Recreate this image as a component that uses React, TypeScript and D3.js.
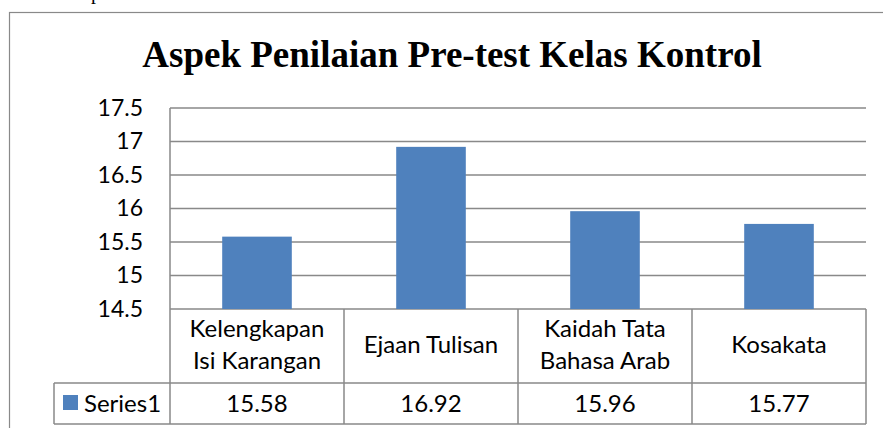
import { useEffect, useRef } from "react";
import * as d3 from "d3";

const title = "Aspek Penilaian Pre-test Kelas Kontrol";
const categories = [
  "Kelengkapan Isi Karangan",
  "Ejaan Tulisan",
  "Kaidah Tata Bahasa Arab",
  "Kosakata",
];
const categoryLines = [
  ["Kelengkapan", "Isi Karangan"],
  ["Ejaan Tulisan"],
  ["Kaidah Tata", "Bahasa Arab"],
  ["Kosakata"],
];
const values = [15.58, 16.92, 15.96, 15.77];
const yTicks = [14.5, 15, 15.5, 16, 16.5, 17, 17.5];
const seriesName = "Series1";

export default function App() {
  const ref = useRef<SVGSVGElement>(null);

  useEffect(() => {
    const svg = d3.select(ref.current!);
    svg.selectAll("*").remove();

    const W = 883,
      H = 428;
    const m = { top: 108, left: 170, right: 866, bottom: 309 };
    const tableRow1 = 383,
      tableRow2 = 424,
      legendLeft = 54;
    const grey = "#898989";
    const labelFont = "Lato, 'Noto Sans', sans-serif";

    // outer chart frame (runs past the picture edge)
    svg
      .append("rect")
      .attr("x", 9.5)
      .attr("y", 12.5)
      .attr("width", W)
      .attr("height", H)
      .attr("fill", "white")
      .attr("stroke", grey)
      .attr("stroke-width", 1.2);

    // fragment of the document text above the chart
    svg
      .append("text")
      .attr("x", 91)
      .attr("y", -1)
      .attr("font-family", "'Liberation Serif', serif")
      .attr("font-size", 20)
      .text("p");

    svg
      .append("text")
      .attr("x", 452)
      .attr("y", 67)
      .attr("text-anchor", "middle")
      .attr("font-family", "'Liberation Serif', 'Times New Roman', serif")
      .attr("font-weight", "bold")
      .attr("font-size", 37)
      .text(title);

    const y = d3
      .scaleLinear()
      .domain([yTicks[0], yTicks[yTicks.length - 1]])
      .range([m.bottom, m.top]);

    const x = d3
      .scaleBand<string>()
      .domain(categories)
      .range([m.left, m.right])
      .paddingInner(0.6)
      .paddingOuter(0.3);

    const cols = d3.scaleBand<string>().domain(categories).range([m.left, m.right]);

    /* ── GRIDLINES ─────────────────────────── */
    svg
      .append("g")
      .selectAll("line")
      .data(yTicks)
      .join("line")
      .attr("x1", m.left)
      .attr("x2", m.right)
      .attr("y1", (d) => y(d))
      .attr("y2", (d) => y(d))
      .attr("stroke", grey)
      .attr("stroke-width", 1.6);

    // y labels
    const yAxis = svg
      .append("g")
      .attr("transform", `translate(${m.left},0)`)
      .call(
        d3
          .axisLeft(y)
          .tickValues(yTicks)
          .tickSize(0)
          .tickPadding(27)
          .tickFormat((d) => String(d))
      );
    yAxis.select(".domain").remove();
    yAxis
      .selectAll("text")
      .attr("font-family", labelFont)
      .attr("font-size", 23)
      .attr("fill", "#000");

    /* ── BARS ─────────────────────────────── */
    svg
      .append("g")
      .selectAll("rect")
      .data(values)
      .join("rect")
      .attr("x", (_, i) => x(categories[i])!)
      .attr("width", x.bandwidth())
      .attr("y", (d) => y(d))
      .attr("height", (d) => y(yTicks[0]) - y(d))
      .attr("fill", "#4F81BD");

    /* ── DATA TABLE ───────────────────────── */
    const t = svg.append("g").attr("stroke", grey).attr("stroke-width", 1.5);
    // vertical axis line down through table
    t.append("line")
      .attr("x1", m.left)
      .attr("x2", m.left)
      .attr("y1", m.top)
      .attr("y2", tableRow2);
    categories.forEach((c) => {
      const xr = cols(c)! + cols.bandwidth();
      t.append("line")
        .attr("x1", xr)
        .attr("x2", xr)
        .attr("y1", m.bottom)
        .attr("y2", tableRow2);
    });
    t.append("line")
      .attr("x1", legendLeft)
      .attr("x2", m.right)
      .attr("y1", tableRow1)
      .attr("y2", tableRow1);
    t.append("line")
      .attr("x1", legendLeft)
      .attr("x2", m.right)
      .attr("y1", tableRow2)
      .attr("y2", tableRow2);
    t.append("line")
      .attr("x1", legendLeft)
      .attr("x2", legendLeft)
      .attr("y1", tableRow1)
      .attr("y2", tableRow2);

    const rowMid = (m.bottom + tableRow1) / 2;
    categories.forEach((c, i) => {
      const lines = categoryLines[i];
      const cx = cols(c)! + cols.bandwidth() / 2;
      lines.forEach((ln, j) => {
        svg
          .append("text")
          .attr("x", cx)
          .attr("y", rowMid + 7 + (j - (lines.length - 1) / 2) * 32)
          .attr("text-anchor", "middle")
          .attr("font-family", labelFont)
          .attr("font-size", 24)
          .text(ln);
      });
      svg
        .append("text")
        .attr("x", cx)
        .attr("y", 411.5)
        .attr("text-anchor", "middle")
        .attr("font-family", labelFont)
        .attr("font-size", 24)
        .text(values[i].toFixed(2));
    });

    // legend key
    svg
      .append("rect")
      .attr("x", 63)
      .attr("y", 395)
      .attr("width", 15)
      .attr("height", 15)
      .attr("fill", "#4F81BD");
    svg
      .append("text")
      .attr("x", 84)
      .attr("y", 411.5)
      .attr("font-family", labelFont)
      .attr("font-size", 24)
      .text(seriesName);
  }, []);

  return (
    <svg
      ref={ref}
      width={883}
      height={428}
      style={{ position: "absolute", left: 0, top: 0 }}
    />
  );
}
